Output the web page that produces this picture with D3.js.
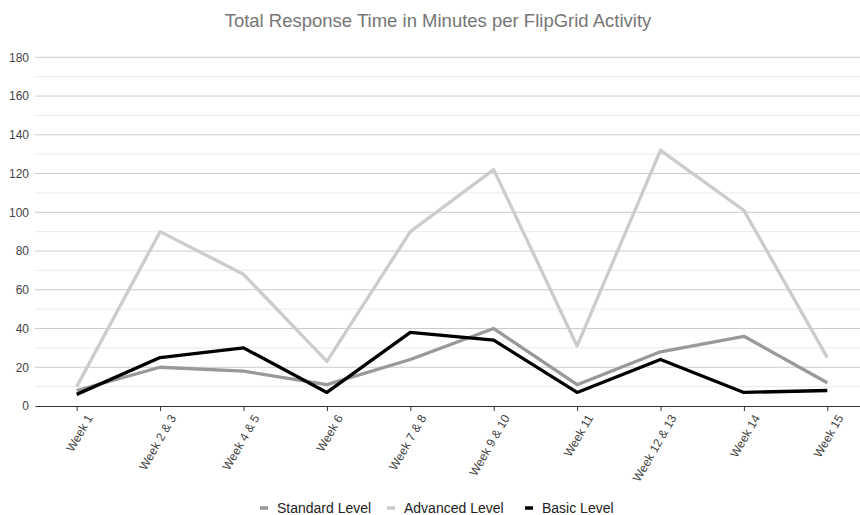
<!DOCTYPE html>
<html>
<head>
<meta charset="utf-8">
<script src="https://cdn.jsdelivr.net/npm/d3@7"></script>
<style>
  body { margin: 0; background: #fff; }
  svg { font-family: "Liberation Sans", Arial, sans-serif; }
</style>
</head>
<body>
<svg id="chart"></svg>
<script>
// chart data
const weeks = ["Week 1", "Week 2 & 3", "Week 4 & 5", "Week 6", "Week 7 & 8",
    "Week 9 & 10", "Week 11", "Week 12 & 13", "Week 14", "Week 15"];
const standardLevel = [8, 20, 18, 11, 24, 40, 11, 28, 36, 12];
const advancedLevel = [10, 90, 68, 23, 90, 122, 31, 132, 101, 25];
const basicLevel = [6, 25, 30, 7, 38, 34, 7, 24, 7, 8];
const seriesNames = ["Standard Level", "Advanced Level", "Basic Level"];
const yTicks = [0, 20, 40, 60, 80, 100, 120, 140, 160, 180];

function drawChart() {
    let width = 860, height = 515;
    let left = 35, right = 869, top = 57.3, bottom = 406;

    let svg = d3.select("#chart").attr("width", width).attr("height", height);

    let x = d3.scalePoint().domain(weeks).range([left, right]).padding(0.5);
    let y = d3.scaleLinear().domain([0, 180]).range([bottom, top]);

    // title
    svg.append("text")
        .attr("x", 438).attr("y", 27)
        .attr("text-anchor", "middle")
        .attr("font-size", 18.5)
        .attr("fill", "#757575")
        .text("Total Response Time in Minutes per FlipGrid Activity");

    // minor + major gridlines
    let grid = svg.append("g");
    grid.selectAll("line.minor")
        .data(d3.range(10, 180, 20))
        .enter().append("line")
        .attr("x1", left).attr("x2", right)
        .attr("y1", d => y(d)).attr("y2", d => y(d))
        .attr("stroke", "#ebebeb");
    grid.selectAll("line.major")
        .data(yTicks.slice(1))
        .enter().append("line")
        .attr("x1", left).attr("x2", right)
        .attr("y1", d => y(d)).attr("y2", d => y(d))
        .attr("stroke", "#cccccc");

    // y axis labels
    let yAxis = svg.append("g")
        .attr("transform", "translate(" + left + ",0)")
        .call(d3.axisLeft(y).tickValues(yTicks).tickSize(0).tickPadding(6));
    yAxis.select(".domain").remove();
    yAxis.selectAll("text")
        .attr("font-family", "Liberation Sans, Arial, sans-serif")
        .attr("font-size", 12).attr("fill", "#444");

    // x axis
    let xAxis = svg.append("g")
        .attr("transform", "translate(0," + bottom + ")")
        .call(d3.axisBottom(x).tickSizeInner(5).tickSizeOuter(0).tickPadding(4));
    xAxis.select(".domain").attr("stroke", "#333").attr("stroke-width", 1.2);
    xAxis.selectAll(".tick line").attr("stroke", "#333");
    xAxis.selectAll("text")
        .attr("font-family", "Liberation Sans, Arial, sans-serif")
        .attr("font-size", 12).attr("fill", "#444")
        .attr("text-anchor", "end")
        .attr("dx", "0.3em").attr("dy", "0.9em")
        .attr("transform", "translate(-3,5) rotate(-60)");

    // lines
    let series = [
        {name: seriesNames[0], values: standardLevel, color: "#999999"},
        {name: seriesNames[1], values: advancedLevel, color: "#cccccc"},
        {name: seriesNames[2], values: basicLevel, color: "#000000"}
    ];
    let line = d3.line()
        .x((d, i) => x(weeks[i]))
        .y(d => y(d));

    svg.append("g").selectAll("path")
        .data(series)
        .enter().append("path")
        .attr("d", d => line(d.values))
        .attr("fill", "none")
        .attr("stroke", d => d.color)
        .attr("stroke-width", 3.3)
        .attr("stroke-linejoin", "round");

    // legend
    let legendX = [260, 387, 525];
    let legend = svg.append("g").selectAll("g")
        .data(series)
        .enter().append("g")
        .attr("transform", (d, i) => "translate(" + legendX[i] + ",508)");
    legend.append("line")
        .attr("x1", 0).attr("x2", 8)
        .attr("y1", 0).attr("y2", 0)
        .attr("stroke", d => d.color)
        .attr("stroke-width", 3.5);
    legend.append("text")
        .attr("x", 17).attr("y", 5)
        .attr("font-size", 14).attr("fill", "#222")
        .text(d => d.name);
}

drawChart();
</script>
</body>
</html>
